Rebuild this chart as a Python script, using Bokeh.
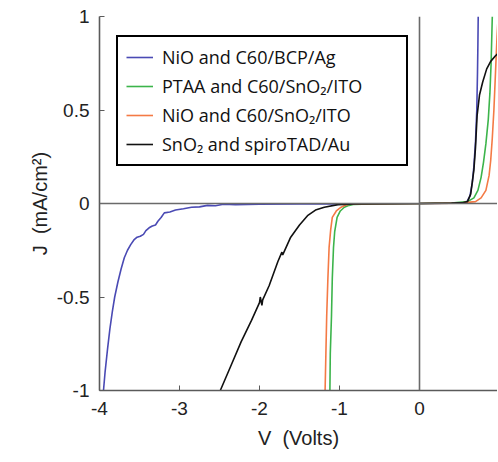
from bokeh.plotting import figure
from bokeh.models import Span, Legend, LegendItem, FixedTicker, Range1d
from bokeh.embed import file_html
from bokeh.resources import INLINE

# ---- data ----
blue_v = [-3.95, -3.93, -3.90, -3.87, -3.84, -3.81, -3.77, -3.73, -3.69, -3.65, -3.61, -3.57,
          -3.53, -3.49, -3.45, -3.42, -3.38, -3.34, -3.30, -3.27, -3.23, -3.19, -3.12, -3.05,
          -2.95, -2.85, -2.75, -2.65, -2.55, -2.45, -2.30, -2.00, -1.50, -1.00, -0.50, 0.00,
          0.30, 0.50, 0.59, 0.63, 0.66, 0.68, 0.70, 0.716, 0.725, 0.73, 0.734]
blue_j = [-1.00, -0.90, -0.78, -0.67, -0.58, -0.50, -0.42, -0.35, -0.29, -0.25, -0.22, -0.195,
          -0.18, -0.175, -0.165, -0.145, -0.13, -0.12, -0.115, -0.095, -0.075, -0.05, -0.045, -0.035,
          -0.028, -0.02, -0.018, -0.01, -0.012, -0.004, -0.006, -0.004, -0.003, -0.002, -0.001, 0.0,
          0.001, 0.003, 0.007, 0.04, 0.11, 0.20, 0.33, 0.50, 0.70, 0.85, 1.00]

green_v = [-1.12, -1.115, -1.10, -1.09, -1.075, -1.06, -1.03, -0.99, -0.94, -0.88, -0.83, -0.50,
           0.00, 0.40, 0.60, 0.68, 0.73, 0.77, 0.80, 0.83, 0.86, 0.88, 0.895, 0.91]
green_j = [-1.00, -0.80, -0.60, -0.40, -0.235, -0.15, -0.074, -0.04, -0.02, -0.01, -0.005, -0.001,
           0.00, 0.003, 0.01, 0.03, 0.07, 0.14, 0.22, 0.32, 0.45, 0.59, 0.75, 1.00]

orange_v = [-1.18, -1.17, -1.16, -1.145, -1.13, -1.11, -1.09, -1.04, -0.98, -0.92, -0.86, -0.50,
            0.00, 0.50, 0.70, 0.77, 0.83, 0.87, 0.89, 0.91, 0.93, 0.95, 0.97, 0.99]
orange_j = [-1.00, -0.80, -0.60, -0.40, -0.235, -0.14, -0.074, -0.04, -0.02, -0.008, -0.003, -0.001,
            0.00, 0.002, 0.01, 0.03, 0.07, 0.15, 0.23, 0.35, 0.50, 0.70, 0.90, 1.05]

black_v = [-2.49, -2.36, -2.23, -2.10, -2.00, -1.99, -1.97, -1.96, -1.88, -1.77, -1.72, -1.71,
           -1.61, -1.50, -1.40, -1.30, -1.19, -1.02, -0.80, 0.00, 0.40, 0.55, 0.60, 0.64, 0.68,
           0.70, 0.72, 0.75, 0.79, 0.84, 0.89, 0.95, 1.00]
black_j = [-1.00, -0.87, -0.74, -0.625, -0.53, -0.50, -0.545, -0.515, -0.44, -0.31, -0.26, -0.275,
           -0.18, -0.115, -0.065, -0.035, -0.02, -0.006, -0.002, 0.00, 0.002, 0.005, 0.01, 0.05, 0.18,
           0.30, 0.47, 0.58, 0.65, 0.72, 0.76, 0.79, 0.81]

labels = ["NiO and C60/BCP/Ag", "PTAA and C60/SnO\u2082/ITO",
          "NiO and C60/SnO\u2082/ITO", "SnO\u2082 and spiroTAD/Au"]
colors = ["#4a4ab4", "#3cb44b", "#f47a45", "#111111"]
x_ticks = [-4, -3, -2, -1, 0, 1]
y_ticks = [-1, -0.5, 0, 0.5, 1]

p = figure(width=497, height=460, output_backend="svg", toolbar_location=None,
           x_range=Range1d(-4.0, 0.975), y_range=Range1d(-1.0, 1.0),
           min_border_left=99, min_border_right=0, min_border_top=16, min_border_bottom=70)
p.outline_line_color = None
p.grid.visible = False
p.background_fill_color = "white"

# zero lines
p.add_layout(Span(location=0, dimension="width", line_color="#6a6a6a", line_width=1.6))
p.add_layout(Span(location=0, dimension="height", line_color="#6a6a6a", line_width=1.6))

series = [(blue_v, blue_j), (green_v, green_j), (orange_v, orange_j), (black_v, black_j)]
renderers = []
for (xv, yv), c in zip(series, colors):
    r = p.line(xv, yv, line_color=c, line_width=1.6)
    renderers.append(r)

# axes
for ax in (p.xaxis[0], p.yaxis[0]):
    ax.axis_line_color = "#5a5a5a"
    ax.axis_line_width = 1.6
    ax.major_tick_line_color = "#5a5a5a"
    ax.major_tick_in = 5
    ax.major_tick_out = 0
    ax.minor_tick_line_color = None
    ax.major_label_text_font = "Liberation Sans"
    ax.major_label_text_font_size = "19px"
    ax.major_label_text_color = "#222222"
    ax.axis_label_text_font = "Liberation Sans"
    ax.axis_label_text_font_size = "20px"
    ax.axis_label_text_font_style = "normal"
    ax.axis_label_text_color = "#222222"

p.xaxis[0].ticker = FixedTicker(ticks=x_ticks)
p.yaxis[0].ticker = FixedTicker(ticks=y_ticks)
p.xaxis[0].major_label_overrides = {-4: "-4", -3: "-3", -2: "-2", -1: "-1", 0: "0", 1: "1"}
p.yaxis[0].major_label_overrides = {-1: "-1", -0.5: "-0.5", 0: "0", 0.5: "0.5", 1: "1"}
p.xaxis[0].axis_label = "V\u00a0\u00a0(Volts)"
p.yaxis[0].axis_label = "J\u00a0\u00a0(mA/cm\u00b2)"
p.xaxis[0].major_label_standoff = 11
p.yaxis[0].major_label_standoff = 10
p.xaxis[0].axis_label_standoff = 9
p.yaxis[0].axis_label_standoff = 3

legend = Legend(items=[LegendItem(label=l, renderers=[r]) for l, r in zip(labels, renderers)],
                location=(17, 224))
legend.border_line_color = "black"
legend.border_line_width = 2
legend.border_line_alpha = 1.0
legend.background_fill_alpha = 1.0
legend.label_text_font = "Open Sans"
legend.label_text_font_size = "18px"
legend.label_text_color = "#111111"
legend.glyph_width = 27
legend.glyph_height = 18
legend.label_height = 18
legend.label_width = 236
legend.spacing = 5
legend.padding = 8
legend.label_standoff = 9
legend.margin = 0
p.add_layout(legend, "center")

open("out.html", "w").write(file_html(p, INLINE))
